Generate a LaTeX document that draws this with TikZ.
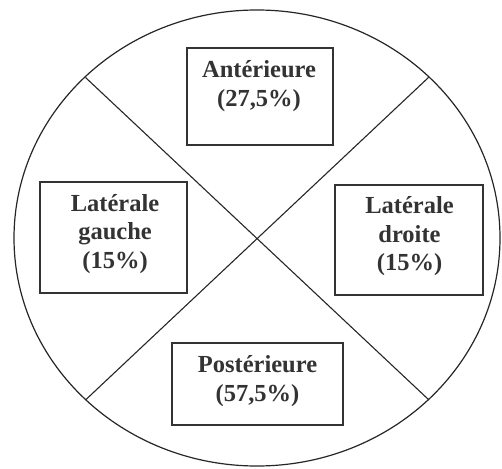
\documentclass[tikz,border=0pt]{standalone}
\usepackage{fontspec}
\setmainfont{Liberation Serif}
\usepackage{tikz}
\usetikzlibrary{positioning}

\tikzset{
  zone/.style = {draw=black!80, line width=1.1pt, rectangle},
  label/.style = {align=center, font=\bfseries\fontsize{24.5}{28.5}\selectfont, text=black!80, inner sep=0pt},
}

\begin{document}
\begin{tikzpicture}[x=1pt, y=-1pt]
    \useasboundingbox (0,0) rectangle (502,468);

    % outline and the two cuts
    \draw [black!85, line width=1.2pt] (257,238) ellipse [x radius=243, y radius=228];
    \coordinate (nw) at (85.5,77.5);
    \coordinate (se) at (429,400);
    \coordinate (ne) at (429,77);
    \coordinate (sw) at (86,399.5);
    \draw [black!85, line width=1.1pt] (nw) -- (se);
    \draw [black!85, line width=1.1pt] (ne) -- (sw);

    \node (ant) [zone, fill=white, minimum width=146, minimum height=97] at (260,96.5) {};
    \node (antT) [label] at (259,86) {Antérieure\\(27,5\%)};

    \node (gau) [zone, fill=white, minimum width=147, minimum height=111] at (113.5,237.5) {};
    \node (gauT) [label] at (115,234) {Latérale\\gauche\\(15\%)};

    \node (dro) [zone, fill=white, minimum width=148, minimum height=110] at (409,240) {};
    \node (droT) [label] at (409.5,236.5) {Latérale\\droite\\(15\%)};

    \node (pos) [zone, fill=white, minimum width=171, minimum height=82] at (257.5,384) {};
    \node (posT) [label] at (257.5,381) {Postérieure\\(57,5\%)};
\end{tikzpicture}
\end{document}
